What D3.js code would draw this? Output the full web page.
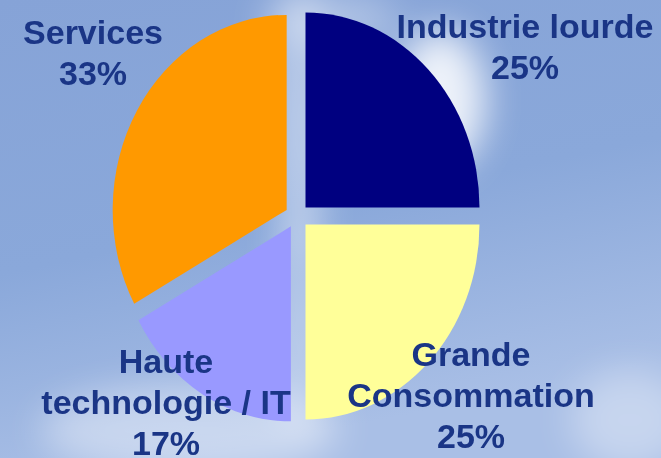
<!DOCTYPE html>
<html>
<head>
<meta charset="utf-8">
<script src="https://cdn.jsdelivr.net/npm/d3@7"></script>
<style>
  body { margin: 0; background: #86a4d8; }
  svg { display: block; }
</style>
</head>
<body>
<div id="chart"></div>
<script>
// data
const sectors = ['Industrie lourde', 'Grande Consommation', 'Haute technologie / IT', 'Services'];
const shares = [25, 25, 17, 33];
const labelLines = [
  ['Industrie lourde', '25%'],
  ['Grande', 'Consommation', '25%'],
  ['Haute', 'technologie / IT', '17%'],
  ['Services', '33%']
];
const colors = ['#000080', '#ffff99', '#9999ff', '#ff9900'];

const width = 661;
const height = 458;

const svg = d3.select('#chart')
  .append('svg')
  .attr('width', width)
  .attr('height', height);

// sky background
const defs = svg.append('defs');
const sky = defs.append('linearGradient')
  .attr('id', 'sky')
  .attr('x1', 0).attr('y1', 0).attr('x2', 0.3).attr('y2', 1);
sky.append('stop').attr('offset', '0%').attr('stop-color', '#86a3d7');
sky.append('stop').attr('offset', '55%').attr('stop-color', '#8aa8da');
sky.append('stop').attr('offset', '100%').attr('stop-color', '#a9bfe6');

defs.append('filter').attr('id', 'blur')
  .attr('x', '-50%').attr('y', '-50%').attr('width', '200%').attr('height', '200%')
  .append('feGaussianBlur').attr('stdDeviation', 18);

svg.append('rect')
  .attr('width', width)
  .attr('height', height)
  .attr('fill', 'url(#sky)');

// clouds
const clouds = svg.append('g').attr('filter', 'url(#blur)');
clouds.append('ellipse').attr('cx', 440).attr('cy', 100).attr('rx', 45).attr('ry', 70)
  .attr('fill', '#ffffff').attr('opacity', 0.85);
clouds.append('ellipse').attr('cx', 300).attr('cy', 120).attr('rx', 25).attr('ry', 140)
  .attr('fill', '#ffffff').attr('opacity', 0.45);
clouds.append('ellipse').attr('cx', 330).attr('cy', 20).attr('rx', 70).attr('ry', 25)
  .attr('fill', '#ffffff').attr('opacity', 0.35);
clouds.append('ellipse').attr('cx', 190).attr('cy', 430).attr('rx', 150).attr('ry', 45)
  .attr('fill', '#ffffff').attr('opacity', 0.4);
clouds.append('ellipse').attr('cx', 630).attr('cy', 420).attr('rx', 60).attr('ry', 50)
  .attr('fill', '#ffffff').attr('opacity', 0.35);
clouds.append('ellipse').attr('cx', 300).attr('cy', 330).attr('rx', 30).attr('ry', 110)
  .attr('fill', '#ffffff').attr('opacity', 0.3);

// exploded, slightly squashed pie
const cx = 297;
const cy = 216;
const rx = 174;
const ry = 195;
const explode = 12;

const pie = d3.pie().sort(null).value(d => d.value);
const arc = d3.arc().innerRadius(0).outerRadius(ry);

const slices = pie(sectors.map((s, i) => ({ name: s, value: shares[i], color: colors[i] })));

svg.append('g')
  .selectAll('path')
  .data(slices)
  .enter()
  .append('path')
  .attr('transform', d => {
    const mid = (d.startAngle + d.endAngle) / 2;
    const ox = Math.sin(mid) * explode;
    const oy = -Math.cos(mid) * explode;
    return `translate(${cx + ox},${cy + oy}) scale(${rx / ry},1)`;
  })
  .attr('d', arc)
  .attr('fill', d => d.data.color);

// labels
const labelAnchor = [
  { x: 525, y: 38 },
  { x: 471, y: 366 },
  { x: 166, y: 373 },
  { x: 93, y: 44 }
];
const lineGap = 41;

const labels = svg.append('g')
  .selectAll('text')
  .data(labelLines)
  .enter()
  .append('text')
  .attr('text-anchor', 'middle')
  .attr('font-family', '"Liberation Sans", Arial, sans-serif')
  .attr('font-weight', 'bold')
  .attr('font-size', 34)
  .attr('fill', '#1a3586')
  .attr('x', (d, i) => labelAnchor[i].x)
  .attr('y', (d, i) => labelAnchor[i].y);

labels.selectAll('tspan')
  .data((d, i) => d.map(t => ({ t, i })))
  .enter()
  .append('tspan')
  .attr('x', d => labelAnchor[d.i].x)
  .attr('dy', (d, j) => j === 0 ? 0 : lineGap)
  .text(d => d.t);
</script>
</body>
</html>
